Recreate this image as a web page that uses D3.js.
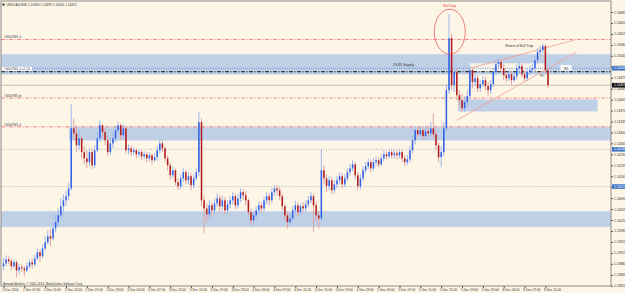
<!DOCTYPE html>
<html>
<head>
<meta charset="utf-8">
<script src="https://cdn.jsdelivr.net/npm/d3@7"></script>
<style>
  html, body { margin: 0; padding: 0; background: #fdf5e6; }
  svg { display: block; font-family: "Liberation Sans", Arial, sans-serif; }
</style>
</head>
<body>
<div id="chart"></div>
<script>
// USDCAD M30, 2 Dec 2014 03:00 -> 8 Dec 11:30 (prices)
const firstOpen = 1.13872;
const closes = [
  1.13881, 1.13894, 1.13888, 1.13872, 1.13885, 1.13859, 1.13869, 1.13865, 1.13859, 1.13872,
  1.13885, 1.13878, 1.13897, 1.13917, 1.13904, 1.13929, 1.13949, 1.13968, 1.13961, 1.13993,
  1.14013, 1.14035, 1.14064, 1.14083, 1.14096, 1.14121, 1.14313, 1.14297, 1.14259, 1.14281,
  1.14237, 1.14217, 1.14205, 1.14237, 1.14195, 1.14243, 1.14281, 1.14323, 1.14301, 1.14275,
  1.14237, 1.14265, 1.14281, 1.14307, 1.14323, 1.14291, 1.14313, 1.14243, 1.14249, 1.14237,
  1.14243, 1.14230, 1.14237, 1.14224, 1.14230, 1.14217, 1.14227, 1.14211, 1.14221, 1.14243,
  1.14265, 1.14249, 1.14217, 1.14195, 1.14163, 1.14179, 1.14141, 1.14128, 1.14153, 1.14173,
  1.14147, 1.14160, 1.14131, 1.14153, 1.14173, 1.14333, 1.14083, 1.14057, 1.14038, 1.14067,
  1.14051, 1.14073, 1.14089, 1.14064, 1.14083, 1.14051, 1.14070, 1.14083, 1.14096, 1.14067,
  1.14089, 1.14109, 1.14099, 1.14083, 1.14045, 1.14019, 1.14035, 1.14051, 1.14067, 1.14057,
  1.14083, 1.14096, 1.14083, 1.14109, 1.14121, 1.14115, 1.14096, 1.14064, 1.14035, 1.14013,
  1.14025, 1.14051, 1.14067, 1.14045, 1.14064, 1.14057, 1.14070, 1.14083, 1.14096, 1.14067,
  1.14035, 1.14025, 1.14179, 1.14153, 1.14128, 1.14147, 1.14115, 1.14134, 1.14147, 1.14160,
  1.14134, 1.14153, 1.14173, 1.14185, 1.14198, 1.14163, 1.14128, 1.14153, 1.14179, 1.14192,
  1.14205, 1.14185, 1.14205, 1.14211, 1.14198, 1.14217, 1.14230, 1.14224, 1.14237, 1.14227,
  1.14233, 1.14227, 1.14237, 1.14217, 1.14205, 1.14214, 1.14243, 1.14275, 1.14307, 1.14294,
  1.14307, 1.14288, 1.14304, 1.14297, 1.14313, 1.14294, 1.14259, 1.14221, 1.14237, 1.14313,
  1.14435, 1.14601, 1.14451, 1.14493, 1.14419, 1.14403, 1.14377, 1.14397, 1.14416, 1.14499,
  1.14461, 1.14473, 1.14441, 1.14454, 1.14467, 1.14448, 1.14435, 1.14454, 1.14493, 1.14518,
  1.14525, 1.14505, 1.14483, 1.14473, 1.14486, 1.14467, 1.14480, 1.14505, 1.14512, 1.14486,
  1.14473, 1.14493, 1.14499, 1.14505, 1.14531, 1.14557, 1.14563, 1.14576, 1.14499, 1.14451
];
const highs = [
  1.13897, 1.13907, 1.13904, 1.13897, 1.13894, 1.13891, 1.13881, 1.13878, 1.13875, 1.13885,
  1.13894, 1.13897, 1.13910, 1.13929, 1.13926, 1.13942, 1.13968, 1.13987, 1.13993, 1.14013,
  1.14038, 1.14057, 1.14089, 1.14102, 1.14115, 1.14141, 1.14390, 1.14345, 1.14323, 1.14307,
  1.14291, 1.14256, 1.14243, 1.14249, 1.14249, 1.14259, 1.14301, 1.14339, 1.14326, 1.14313,
  1.14288, 1.14281, 1.14301, 1.14320, 1.14333, 1.14329, 1.14326, 1.14320, 1.14262, 1.14259,
  1.14253, 1.14249, 1.14246, 1.14243, 1.14240, 1.14237, 1.14237, 1.14233, 1.14233, 1.14256,
  1.14278, 1.14275, 1.14256, 1.14227, 1.14205, 1.14192, 1.14185, 1.14153, 1.14166, 1.14185,
  1.14179, 1.14173, 1.14169, 1.14166, 1.14185, 1.14365, 1.14345, 1.14096, 1.14073, 1.14083,
  1.14077, 1.14089, 1.14105, 1.14099, 1.14096, 1.14093, 1.14083, 1.14096, 1.14109, 1.14105,
  1.14102, 1.14121, 1.14118, 1.14112, 1.14089, 1.14057, 1.14048, 1.14064, 1.14080, 1.14077,
  1.14096, 1.14109, 1.14105, 1.14121, 1.14131, 1.14131, 1.14125, 1.14105, 1.14073, 1.14045,
  1.14041, 1.14064, 1.14083, 1.14077, 1.14073, 1.14077, 1.14083, 1.14096, 1.14109, 1.14105,
  1.14077, 1.14051, 1.14246, 1.14195, 1.14166, 1.14160, 1.14157, 1.14147, 1.14160, 1.14173,
  1.14169, 1.14166, 1.14185, 1.14198, 1.14211, 1.14205, 1.14173, 1.14166, 1.14192, 1.14205,
  1.14217, 1.14214, 1.14217, 1.14224, 1.14221, 1.14230, 1.14243, 1.14240, 1.14246, 1.14246,
  1.14243, 1.14243, 1.14246, 1.14243, 1.14227, 1.14227, 1.14256, 1.14288, 1.14320, 1.14317,
  1.14320, 1.14317, 1.14317, 1.14313, 1.14333, 1.14361, 1.14307, 1.14269, 1.14256, 1.14333,
  1.14454, 1.14678, 1.14614, 1.14512, 1.14505, 1.14435, 1.14422, 1.14416, 1.14435, 1.14512,
  1.14505, 1.14486, 1.14483, 1.14467, 1.14480, 1.14477, 1.14461, 1.14467, 1.14505, 1.14531,
  1.14537, 1.14531, 1.14518, 1.14493, 1.14499, 1.14496, 1.14493, 1.14518, 1.14525, 1.14521,
  1.14499, 1.14505, 1.14512, 1.14518, 1.14544, 1.14569, 1.14576, 1.14585, 1.14582, 1.14505
];
const lows = [
  1.13859, 1.13872, 1.13878, 1.13859, 1.13865, 1.13837, 1.13846, 1.13853, 1.13840, 1.13853,
  1.13865, 1.13865, 1.13872, 1.13891, 1.13885, 1.13897, 1.13923, 1.13942, 1.13936, 1.13955,
  1.13981, 1.14000, 1.14025, 1.14045, 1.14064, 1.14083, 1.14115, 1.14275, 1.14237, 1.14243,
  1.14217, 1.14198, 1.14185, 1.14192, 1.14182, 1.14185, 1.14237, 1.14269, 1.14281, 1.14259,
  1.14224, 1.14227, 1.14249, 1.14269, 1.14294, 1.14275, 1.14281, 1.14233, 1.14230, 1.14224,
  1.14227, 1.14217, 1.14221, 1.14211, 1.14214, 1.14205, 1.14208, 1.14198, 1.14205, 1.14211,
  1.14233, 1.14237, 1.14205, 1.14179, 1.14147, 1.14153, 1.14131, 1.14115, 1.14118, 1.14141,
  1.14134, 1.14134, 1.14115, 1.14121, 1.14147, 1.14160, 1.14064, 1.13977, 1.14013, 1.14022,
  1.14032, 1.14038, 1.14061, 1.14048, 1.14051, 1.14038, 1.14041, 1.14057, 1.14070, 1.14054,
  1.14057, 1.14077, 1.14083, 1.14067, 1.14032, 1.14000, 1.14006, 1.14025, 1.14038, 1.14045,
  1.14048, 1.14070, 1.14067, 1.14073, 1.14096, 1.14099, 1.14083, 1.14051, 1.14019, 1.13993,
  1.14000, 1.14016, 1.14041, 1.14032, 1.14035, 1.14045, 1.14048, 1.14061, 1.14073, 1.13981,
  1.14013, 1.13993, 1.14013, 1.14134, 1.14109, 1.14115, 1.14102, 1.14105, 1.14121, 1.14134,
  1.14121, 1.14125, 1.14144, 1.14163, 1.14176, 1.14150, 1.14115, 1.14118, 1.14144, 1.14169,
  1.14182, 1.14173, 1.14176, 1.14192, 1.14189, 1.14192, 1.14208, 1.14214, 1.14217, 1.14217,
  1.14217, 1.14214, 1.14217, 1.14205, 1.14192, 1.14195, 1.14205, 1.14233, 1.14262, 1.14281,
  1.14285, 1.14275, 1.14278, 1.14285, 1.14288, 1.14281, 1.14243, 1.14205, 1.14189, 1.14224,
  1.14301, 1.14422, 1.14435, 1.14429, 1.14403, 1.14384, 1.14365, 1.14365, 1.14384, 1.14403,
  1.14441, 1.14448, 1.14429, 1.14429, 1.14445, 1.14435, 1.14416, 1.14422, 1.14445, 1.14483,
  1.14505, 1.14493, 1.14467, 1.14461, 1.14464, 1.14454, 1.14461, 1.14470, 1.14493, 1.14477,
  1.14461, 1.14464, 1.14483, 1.14489, 1.14496, 1.14521, 1.14544, 1.14553, 1.14486, 1.14441
];

// bottom axis: one label every 8 bars (4 hours)
const timeLabels = [
  "2 Dec 2014", "2 Dec 07:00", "2 Dec 11:00", "2 Dec 15:00", "2 Dec 19:00", "2 Dec 23:00",
  "3 Dec 03:00", "3 Dec 07:00", "3 Dec 11:00", "3 Dec 15:00", "3 Dec 19:00", "3 Dec 23:00",
  "4 Dec 03:00", "4 Dec 07:00", "4 Dec 11:00", "4 Dec 15:00", "4 Dec 19:00", "4 Dec 23:00",
  "5 Dec 03:00", "5 Dec 07:00", "5 Dec 11:00", "5 Dec 15:00", "5 Dec 19:00", "5 Dec 23:00",
  "8 Dec 03:00", "8 Dec 07:00", "8 Dec 11:00"
];
const priceTicks = [
  "1.13810", "1.13845", "1.13880", "1.13915", "1.13950", "1.13985", "1.14020", "1.14055",
  "1.14090", "1.14125", "1.14160", "1.14195", "1.14230", "1.14265", "1.14300", "1.14335",
  "1.14370", "1.14405", "1.14440", "1.14475", "1.14510", "1.14545", "1.14580", "1.14615",
  "1.14650", "1.14685"
];

// supply / demand rectangles (prices, bar index; null = chart edge)
const zoneTop    = [1.14550, 1.14405, 1.14317, 1.14048];
const zoneBottom = [1.14486, 1.14368, 1.14275, 1.13998];
const zoneFrom   = [null, 174.5, 25.2, null];
const zoneTo     = [null, 228, null, null];

// order levels (red dash-dot) and their names
const orderLevels = [1.14597, 1.14410, 1.14318];
const orderNames  = ["#00007M1 sl", "#00007M1 tp", "#00007M1 sl"];

const bidPrice = 1.14451;
const blueLevel = 1.14505;
const blackLevel = 1.14494;
const dottedLevels = [1.14246, 1.14127];
const markedPrices = ["1.14505", "1.14451", "1.14246", "1.14127"];

// trend lines [bar, price]
const trendUpper = [[179, 1.14505], [219, 1.14595]];
const trendLower = [[174, 1.14339], [220, 1.14557]];

const W = 625, H = 293;
const L = 1, R = 611, T = 1, B = 286;

const x = d3.scaleLinear().domain([0, 209]).range([3.5, 548]);
const y = d3.scaleLinear().domain([1.13810, 1.14685]).range([285.7, 12]);

const svg = d3.select("#chart").append("svg")
  .attr("width", W).attr("height", H);

svg.append("rect").attr("width", W).attr("height", H).attr("fill", "#fdf5e6");

svg.append("clipPath").attr("id", "plot")
  .append("rect").attr("x", L).attr("y", T).attr("width", R - L).attr("height", B - T);

const g = svg.append("g").attr("clip-path", "url(#plot)");

// zones
zoneTop.forEach((top, k) => {
  const x0 = zoneFrom[k] == null ? L : x(zoneFrom[k]);
  const x1 = zoneTo[k] == null ? R : x(zoneTo[k]);
  g.append("rect")
    .attr("x", x0).attr("width", x1 - x0)
    .attr("y", y(top)).attr("height", y(zoneBottom[k]) - y(top))
    .attr("fill", "#bfcfe6").attr("stroke", "#d0dcee").attr("stroke-width", 0.6);
});

// light box inside the supply zone behind the last bars
g.append("rect")
  .attr("x", x(179)).attr("width", x(208) - x(179))
  .attr("y", y(1.14521)).attr("height", y(1.14495) - y(1.14521))
  .attr("fill", "#f7f3ea");

// horizontal lines
dottedLevels.forEach(p => {
  g.append("line").attr("x1", L).attr("x2", R).attr("y1", y(p)).attr("y2", y(p))
    .attr("stroke", "#9aaabb").attr("stroke-width", 0.8).attr("stroke-dasharray", "1,1.5");
});
g.append("line").attr("x1", L).attr("x2", R).attr("y1", y(bidPrice)).attr("y2", y(bidPrice))
  .attr("stroke", "#b8b0a0").attr("stroke-width", 0.8);
g.append("line").attr("x1", L).attr("x2", R).attr("y1", y(blueLevel)).attr("y2", y(blueLevel))
  .attr("stroke", "#5a7fc8").attr("stroke-width", 0.8).attr("stroke-dasharray", "1,1.2");
g.append("line").attr("x1", L).attr("x2", R).attr("y1", y(blackLevel)).attr("y2", y(blackLevel))
  .attr("stroke", "#111").attr("stroke-width", 1).attr("stroke-dasharray", "4,1.5,1,1.5");
orderLevels.forEach(p => {
  g.append("line").attr("x1", L).attr("x2", R).attr("y1", y(p)).attr("y2", y(p))
    .attr("stroke", "#f06868").attr("stroke-width", 0.8).attr("stroke-dasharray", "4,1.5,1,1.5");
});

// trend lines
[trendUpper, trendLower].forEach(t => {
  g.append("line")
    .attr("x1", x(t[0][0])).attr("y1", y(t[0][1]))
    .attr("x2", x(t[1][0])).attr("y2", y(t[1][1]))
    .attr("stroke", "#f0a090").attr("stroke-width", 0.8);
});

// candles
const candles = closes.map((c, i) => ({
  i, o: i === 0 ? firstOpen : closes[i - 1], h: highs[i], l: lows[i], c
}));

g.selectAll("line.wick").data(candles).join("line")
  .attr("class", "wick")
  .attr("x1", d => x(d.i)).attr("x2", d => x(d.i))
  .attr("y1", d => y(d.h)).attr("y2", d => y(d.l))
  .attr("stroke", d => d.c >= d.o ? "#9fb6ee" : "#e0a4a4")
  .attr("stroke-width", 1);

g.selectAll("rect.body").data(candles).join("rect")
  .attr("class", "body")
  .attr("x", d => x(d.i) - 0.75).attr("width", 1.5)
  .attr("y", d => y(Math.max(d.o, d.c)))
  .attr("height", d => Math.max(0.7, Math.abs(y(d.o) - y(d.c))))
  .attr("fill", d => d.c >= d.o ? "#2f60e8" : "#b01a1a");

// annotations
g.append("ellipse")
  .attr("cx", x(171.3)).attr("cy", y(1.14622)).attr("rx", 15.5).attr("ry", 22.5)
  .attr("fill", "none").attr("stroke", "#e86060").attr("stroke-width", 0.8);
g.append("text").attr("x", x(171.3)).attr("y", y(1.14700)).attr("text-anchor", "middle")
  .attr("font-size", 3.6).attr("fill", "#e04040").text("Bull trap");
g.append("text").attr("x", x(192.6)).attr("y", y(1.14572)).attr("font-size", 3.4)
  .attr("fill", "#333").text("Retest of Bull Trap");
g.append("text").attr("x", x(149.5)).attr("y", y(1.14512)).attr("font-size", 3.6)
  .attr("fill", "#333").text("15/45 Supply");
g.append("rect").attr("x", x(213.8)).attr("y", y(1.14515)).attr("width", 11).attr("height", 5.5)
  .attr("fill", "#ffffff");
g.append("text").attr("x", x(215)).attr("y", y(1.14500)).attr("font-size", 3.4)
  .attr("fill", "#333").text("W1");
g.append("text").attr("x", x(206)).attr("y", y(1.14478)).attr("font-size", 3)
  .attr("fill", "#333").text("FC");

// order labels on the left
orderLevels.forEach((p, k) => {
  g.append("text").attr("x", 4).attr("y", y(p) - 1.2).attr("font-size", 3)
    .attr("fill", "#444").text(orderNames[k]);
});
g.append("rect").attr("x", 2).attr("y", y(blueLevel) - 1.5).attr("width", 30).attr("height", 4)
  .attr("fill", "#ffffff");
g.append("text").attr("x", 4).attr("y", y(blueLevel) + 1.6).attr("font-size", 3)
  .attr("fill", "#444").text("#00007M1 sl =1.14");

// header and copyright
svg.append("rect").attr("x", 2.5).attr("y", 3.5).attr("width", 2).attr("height", 2).attr("fill", "#222");
svg.append("text").attr("x", 6.5).attr("y", 6).attr("font-size", 3.2).attr("fill", "#333")
  .text("USDCAD,M30  1.14490 1.14499 1.14441 1.14451");
svg.append("text").attr("x", 3).attr("y", 284.5).attr("font-size", 3).attr("fill", "#333")
  .text("Armada Markets, © 2001-2014, MetaQuotes Software Corp.");

// frame
svg.append("rect").attr("x", L).attr("y", T).attr("width", R - L).attr("height", B - T)
  .attr("fill", "none").attr("stroke", "#8c8c8c").attr("stroke-width", 1);

// right price axis
const yAxis = d3.axisRight(y)
  .tickValues(priceTicks.map(Number))
  .tickFormat((d, i) => priceTicks[i])
  .tickSize(2).tickPadding(1);
const ya = svg.append("g").attr("transform", `translate(${R},0)`).call(yAxis);
ya.select(".domain").remove();
ya.selectAll("line").attr("stroke", "#555");
ya.selectAll("text").attr("font-size", 3.2).attr("fill", "#333").attr("font-family", "Liberation Sans, Arial");

// highlighted price labels
markedPrices.forEach((s, k) => {
  const yy = y(+s);
  svg.append("rect").attr("x", R + 1).attr("y", yy - 2.3).attr("width", 13).attr("height", 4.6)
    .attr("fill", k === 1 ? "#111" : "#3f78c8");
  svg.append("text").attr("x", R + 3).attr("y", yy + 1.1).attr("font-size", 3.2)
    .attr("fill", "#fff").text(s);
});

// bottom time axis
const xAxis = d3.axisBottom(x)
  .tickValues(timeLabels.map((_, k) => k * 8))
  .tickFormat((d, k) => timeLabels[k])
  .tickSize(2).tickPadding(0.5);
const xa = svg.append("g").attr("transform", `translate(0,${B})`).call(xAxis);
xa.select(".domain").remove();
xa.selectAll("line").attr("stroke", "#555");
xa.selectAll("text").attr("font-size", 3.2).attr("fill", "#333")
  .attr("text-anchor", "start").attr("dx", -1.8)
  .attr("font-family", "Liberation Sans, Arial");
</script>
</body>
</html>
